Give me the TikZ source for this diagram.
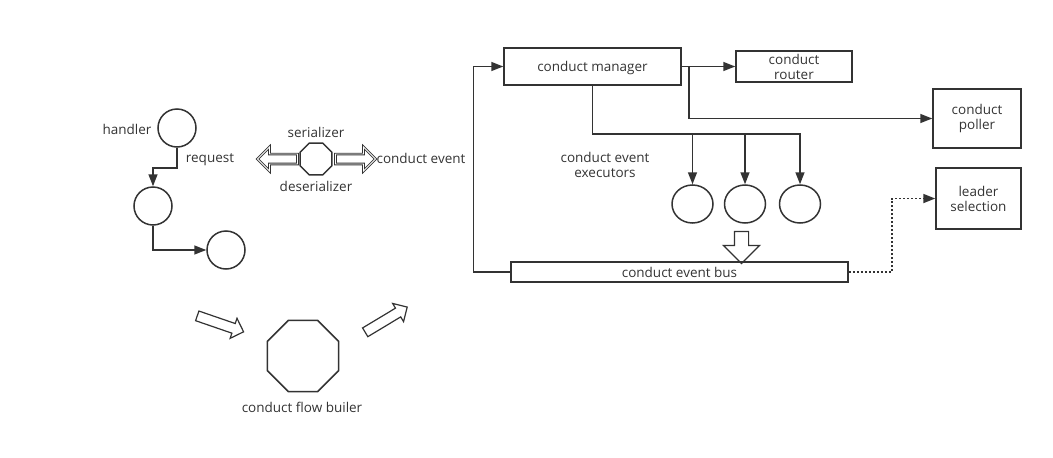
\documentclass[tikz,border=0pt]{standalone}
\usepackage{fontspec}
\setmainfont{Open Sans}
\usepackage{tikz}
\usetikzlibrary{arrows.meta,shapes.geometric,shapes.arrows}
\definecolor{ink}{HTML}{333333}

\begin{document}
\begin{tikzpicture}[x=1pt,y=-1pt,>={Triangle[length=12pt,width=9pt]}]
    \tikzstyle{every node}=[font=\fontsize{13.5}{15}\selectfont, text=ink]
    \tikzstyle{conn}=[draw=ink, line width=1.5pt]
    \tikzstyle{blk}=[draw=ink, line width=1.5pt, rectangle, inner sep=0pt, align=center]
    \tikzstyle{rnd}=[draw=ink, line width=1.5pt, circle, minimum size=38pt, inner sep=0pt]
    \tikzstyle{oval}=[draw=ink, line width=1.5pt, ellipse, minimum width=41pt, minimum height=38pt, inner sep=0pt]
    \tikzstyle{oct}=[draw=ink, line width=1.5pt, regular polygon, regular polygon sides=8, inner sep=0pt]
    \tikzstyle{hollow}=[draw=ink, line width=1.2pt, single arrow, inner xsep=0pt]
    \useasboundingbox (0,0) rectangle (1053,458);
    % request handling
    \node[rnd] (h1) at (177,128) {};
    \node[rnd] (h2) at (153,206) {};
    \node[rnd] (h3) at (226,250) {};
    \node at (127,129) {handler};
    \node at (210,160) {request};
    \draw[conn,->] (h1.south) -- ++(0,20) -| (h2.north);
    \draw[conn,->] (h2.south) |- (h3.west);
    % serializer
    \node[oct, minimum size=34.6pt] (ser) at (316,159) {};
    \node[hollow, double, double distance=0.8pt, line width=0.9pt, inner ysep=4.5pt, minimum height=40pt,
          single arrow head extend=7pt, rotate=180] (serl) at (280,159) {};
    \node[hollow, double, double distance=0.8pt, line width=0.9pt, inner ysep=4.5pt, minimum height=40pt,
          single arrow head extend=7pt] (serr) at (353,159) {};
    \node at (316,132) {serializer};
    \node at (316,186) {deserializer};
    \node at (421,158) {conduct event};
    % flow builder
    \node[oct, minimum size=77pt] (fb) at (303,356) {};
    \node at (302,407) {conduct flow builer};
    \node[hollow, inner ysep=4.5pt, minimum height=49pt, single arrow head extend=5.5pt, rotate=-19] (ain) at (218,323) {};
    \node[hollow, inner ysep=4.5pt, minimum height=49pt, single arrow head extend=5.5pt, rotate=31] (aout) at (384,321) {};
    % conduct boxes
    \node[blk, minimum width=177pt, minimum height=37pt, text height=13pt, text depth=3pt] (mgr) at (592.5,66.5) {conduct manager};
    \node[blk, minimum width=116pt, minimum height=31pt] (rtr) at (794,66.5) {conduct\\router};
    \node[blk, minimum width=88pt, minimum height=59pt] (pol) at (977,118.5) {conduct\\poller};
    \node[blk, minimum width=85pt, minimum height=61pt] (ldr) at (978.5,198.5) {leader\\selection};
    \node[blk, minimum width=337pt, minimum height=20pt, text height=13pt, text depth=3pt] (bus) at (679.5,272) {conduct event bus};
    % executors
    \node[oval] (e1) at (692.5,204) {};
    \node[oval] (e2) at (745,204) {};
    \node[oval] (e3) at (800,204) {};
    \node[align=center] at (605,165) {conduct event\\executors};
    \node[hollow, inner ysep=6.5pt, minimum height=32pt, single arrow head extend=11pt, rotate=-90] (adown) at (741.5,244) {};
    % connectors
    \coordinate (split) at (689,66.5);
    \coordinate (bar) at (592.5,134);
    \draw[conn,->] (bus.west) -- ++(-37,0) |- (mgr.west);
    \draw[conn,->] (mgr.east) -- (rtr.west);
    \draw[conn,->] (split) |- (pol.west);
    \draw[conn,->] (mgr.south) |- (bar -| e3.north) -- (e3.north);
    \draw[conn,->] (bar -| e1.north) -- (e1.north);
    \draw[conn,->] (bar -| e2.north) -- (e2.north);
    \draw[conn, line width=1.7pt, dash pattern=on 2pt off 2pt, ->] (bus.east) -- ++(43,0) |- (ldr.west);
\end{tikzpicture}
\end{document}
